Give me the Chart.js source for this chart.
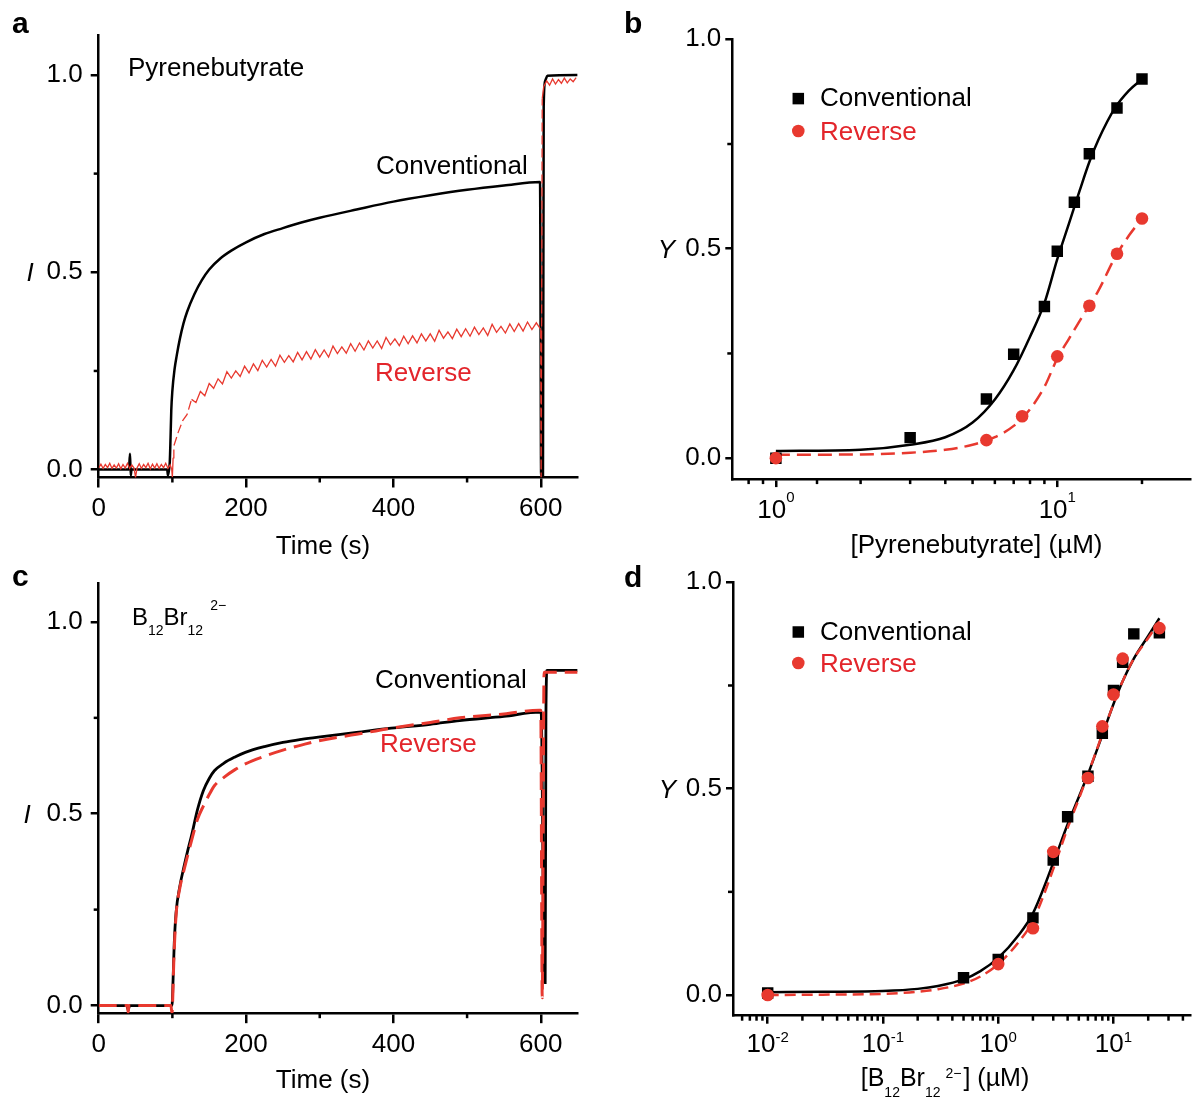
<!DOCTYPE html>
<html>
<head>
<meta charset="utf-8">
<script src="https://cdn.jsdelivr.net/npm/chart.js@4.4.1/dist/chart.umd.min.js"></script>
<style>
  html, body { margin: 0; padding: 0; background: #fff; }
  #fig { position: relative; width: 1198px; height: 1098px; overflow: hidden; }
  canvas { position: absolute; }
</style>
</head>
<body>
<div id="fig">
  <canvas id="chartA" width="599" height="560" style="left:0;top:0"></canvas>
  <canvas id="chartB" width="598" height="560" style="left:600px;top:0"></canvas>
  <canvas id="chartC" width="599" height="538" style="left:0;top:560px"></canvas>
  <canvas id="chartD" width="598" height="538" style="left:600px;top:560px"></canvas>
</div>
<script>
// ---- panel a : pyrenebutyrate time traces ----
const tConvA = [0, 41, 42.5, 43.5, 44.5, 93, 94, 95.5, 96.5, 97.5,
  98.5, 100, 103, 106, 110, 115, 120, 130, 140, 150,
  165, 180, 200, 225, 250, 275, 300, 350, 400, 450,
  500, 550, 599, 600.5, 603, 604, 606, 609, 650];
const iConvA = [0, 0, 0.04, -0.015, 0, 0, -0.015, 0, 0.02, 0.08,
  0.15, 0.2, 0.255, 0.29, 0.33, 0.37, 0.40, 0.445, 0.48, 0.507,
  0.535, 0.555, 0.576, 0.597, 0.612, 0.626, 0.638, 0.659, 0.679, 0.695,
  0.709, 0.72, 0.729, -0.015, -0.015, 0.92, 0.985, 0.998, 1.0];

const tRevA = [0, 3, 6, 9, 12, 15, 18, 21, 24, 27, 30, 33, 36, 39, 42, 45, 48, 50, 52, 55,
  58, 61, 64, 67, 70, 73, 76, 79, 82, 85, 88, 91, 94, 97, 99, 100, 101,
  102, 108, 114, 120, 126, 132, 138, 144, 150, 156, 162, 168, 174, 180, 186, 192, 198, 204, 210, 216,
  222, 228, 234, 240, 246, 252, 258, 264, 270, 276, 282, 288, 294, 300, 306, 312, 318, 324, 330, 336,
  342, 348, 354, 360, 366, 372, 378, 384, 390, 396, 402, 408, 414, 420, 426, 432, 438, 444, 450, 456,
  462, 468, 474, 480, 486, 492, 498, 504, 510, 516, 522, 528, 534, 540, 546, 552, 558, 564, 570, 576,
  582, 588, 594, 600,
  600.5, 602, 604, 608, 612, 616, 620, 624, 628, 632, 636, 640, 644, 648];
const iRevA = [0.004, 0.014, 0.003, 0.013, 0.005, 0.016, 0.003, 0.012, 0.004, 0.015,
  0.002, 0.013, 0.004, 0.016, 0.003, 0.012, 0.004, -0.02, 0.004, 0.015,
  0.003, 0.013, 0.005, 0.016, 0.002, 0.014, 0.004, 0.015, 0.003, 0.013,
  0.005, 0.016, 0.003, 0.012, 0.002, -0.02, 0.03,
  0.060, 0.095, 0.124, 0.140, 0.178, 0.170, 0.198, 0.187, 0.218, 0.206,
  0.230, 0.217, 0.248, 0.232, 0.250, 0.236, 0.262, 0.245, 0.268, 0.251,
  0.277, 0.260, 0.279, 0.262, 0.290, 0.272, 0.289, 0.273, 0.297, 0.278,
  0.299, 0.280, 0.304, 0.285, 0.303, 0.285, 0.313, 0.294, 0.311, 0.295,
  0.319, 0.300, 0.321, 0.303, 0.326, 0.308, 0.326, 0.307, 0.335, 0.316,
  0.331, 0.314, 0.338, 0.319, 0.339, 0.321, 0.344, 0.326, 0.344, 0.325,
  0.353, 0.333, 0.349, 0.332, 0.356, 0.337, 0.357, 0.338, 0.361, 0.342,
  0.359, 0.340, 0.368, 0.348, 0.363, 0.346, 0.369, 0.350, 0.370, 0.351,
  0.374, 0.355, 0.372, 0.355,
  -0.02, 0.94, 0.97, 0.985, 0.974, 0.99, 0.977, 0.988, 0.979, 0.992, 0.98, 0.99, 0.983, 0.993];

// ---- panel c : B12Br12 time traces ----
const tConvC = [0, 38, 40, 42, 98, 99.5, 101, 102.5, 105, 110,
  116, 121, 126, 134, 142, 150, 157, 170, 185, 199,
  225, 250, 275, 298, 350, 397, 450, 490, 550, 599,
  600.5, 605, 606, 607, 608.5, 650];
const iConvC = [0, 0, -0.012, 0, 0, 0, 0.07, 0.16, 0.242, 0.31,
  0.364, 0.405, 0.443, 0.51, 0.56, 0.592, 0.612, 0.632, 0.648, 0.66,
  0.675, 0.686, 0.694, 0.70, 0.712, 0.723, 0.733, 0.743, 0.754, 0.765,
  0.765, 0.06, 0.06, 0.75, 0.874, 0.874];
const tRevC = [0, 39, 40, 41, 98, 99.5, 100.5, 102, 105, 110,
  116, 126, 134, 142, 150, 157, 170, 185, 199, 225,
  250, 275, 298, 350, 397, 450, 490, 550, 598, 600,
  602, 604.5, 650];
const iRevC = [0, 0, -0.018, 0, 0, -0.02, 0.02, 0.12, 0.235, 0.305,
  0.355, 0.43, 0.485, 0.52, 0.55, 0.573, 0.595, 0.615, 0.63, 0.65,
  0.666, 0.679, 0.69, 0.707, 0.723, 0.738, 0.75, 0.76, 0.77, 0.77,
  0.02, 0.869, 0.869];

// ---- panel b : pyrenebutyrate titration ----
const concConvB = [1, 3, 5.6, 7, 9, 10, 11.5, 13, 16.3, 20];
const yConvB    = [0.0, 0.049, 0.141, 0.248, 0.362, 0.494, 0.611, 0.727, 0.836, 0.905];
const concRevB  = [1, 5.6, 7.5, 10, 13, 16.3, 20];
const yRevB     = [0.0, 0.043, 0.10, 0.243, 0.364, 0.488, 0.572];
const fitXB     = [1, 2, 3, 4, 5, 6, 7, 8, 9, 10, 11, 12, 13, 14, 16, 18, 20];
const fitConvB  = [0.017, 0.02, 0.032, 0.05, 0.085, 0.14, 0.21, 0.29, 0.37, 0.475, 0.56, 0.638, 0.707, 0.76, 0.835, 0.878, 0.905];
const fitRevB   = [0.008, 0.009, 0.013, 0.02, 0.032, 0.05, 0.077, 0.117, 0.17, 0.238, 0.285, 0.327, 0.365, 0.4, 0.478, 0.532, 0.572];

// ---- panel d : B12Br12 titration ----
const concConvD = [0.01, 0.5, 1, 2, 3, 4, 6, 8, 10, 12, 15, 25];
const yConvD    = [0.005, 0.042, 0.086, 0.187, 0.327, 0.432, 0.53, 0.634, 0.738, 0.806, 0.875, 0.878];
const concRevD  = [0.01, 1, 2, 3, 6, 8, 10, 12, 25];
const yRevD     = [0.0, 0.075, 0.162, 0.347, 0.526, 0.651, 0.728, 0.815, 0.889];
const fitXD     = [0.01, 0.03, 0.1, 0.2, 0.3, 0.5, 0.7, 1, 1.5, 2, 3, 4, 5, 6, 8, 10, 12, 15, 20, 25];
const fitConvD  = [0.007, 0.008, 0.01, 0.015, 0.022, 0.038, 0.058, 0.09, 0.145, 0.198, 0.32, 0.414, 0.48, 0.535, 0.63, 0.705, 0.76, 0.815, 0.87, 0.913];
const fitRevD   = [0.0, 0.001, 0.003, 0.008, 0.014, 0.028, 0.045, 0.075, 0.128, 0.18, 0.305, 0.405, 0.475, 0.535, 0.632, 0.705, 0.76, 0.815, 0.865, 0.905];

// ---- ticks ----
const timeTicks   = [0, 200, 400, 600];
const timeMinor   = [100, 300, 500];
const yTicks      = [0, 0.5, 1.0];
const yMinor      = [0.25, 0.75];
const decadesB    = [1, 10];
const expB        = ['0', '1'];
const minorB      = [0.8, 0.9, 1.4, 2, 3, 4, 5, 6, 7, 8, 9, 20];
const decadesD    = [0.01, 0.1, 1, 10];
const expD        = ['-2', '-1', '0', '1'];
const minorD      = [0.006, 0.007, 0.008, 0.009, 0.02, 0.03, 0.04, 0.05, 0.06, 0.07, 0.08, 0.09,
  0.2, 0.3, 0.4, 0.5, 0.6, 0.7, 0.8, 0.9, 2, 3, 4, 5, 6, 7, 8, 9, 20, 30, 40];

const RED = '#e8392f';
const RED_TXT = '#e3252b';
const FONT = '"Liberation Sans", Arial, sans-serif';

Chart.defaults.font.family = FONT;
Chart.defaults.font.size = 26;
Chart.defaults.color = '#000';

function pts(xs, ys) { return xs.map((x, i) => ({x: x, y: ys[i]})); }

// draw a line of text made of parts (for sub / superscripts)
function drawRich(ctx, it) {
  const size = it.size || 26, style = it.style || '';
  const fontOf = p => ((p.style || style) + ' ' + (p.size || size) + 'px ' + FONT).trim();
  let w = 0;
  it.parts.forEach(p => { ctx.font = fontOf(p); w += ctx.measureText(p.t).width + (p.gap || 0); });
  let x = it.align === 'center' ? it.x - w / 2 : it.x;
  ctx.fillStyle = it.color || '#000';
  ctx.textAlign = 'left';
  ctx.textBaseline = 'alphabetic';
  it.parts.forEach(p => {
    ctx.font = fontOf(p);
    ctx.fillText(p.t, x, it.y + (p.dy || 0));
    x += ctx.measureText(p.t).width + (p.gap || 0);
  });
}

// minor ticks, power-of-ten labels, texts and legend, placed with the chart's scales
function decor(o) {
  return {
    id: 'decor',
    afterDraw(chart) {
      const ctx = chart.ctx, xs = chart.scales.x, ys = chart.scales.y;
      ctx.save();
      ctx.strokeStyle = '#000';
      ctx.lineWidth = 2.5;
      o.minorX.forEach(v => {
        const p = xs.getPixelForValue(v);
        ctx.beginPath(); ctx.moveTo(p, xs.top); ctx.lineTo(p, xs.top + o.minorLen); ctx.stroke();
      });
      o.minorY.forEach(v => {
        const p = ys.getPixelForValue(v);
        ctx.beginPath(); ctx.moveTo(ys.right, p); ctx.lineTo(ys.right - o.minorLen, p); ctx.stroke();
      });
      if (o.expTicks) {
        o.expTicks.forEach((v, i) => {
          drawRich(ctx, {x: xs.getPixelForValue(v), y: xs.top + o.expBase, align: 'center',
            parts: [{t: '10'}, {t: o.expLabels[i], size: 15, dy: -o.expRaise}]});
        });
      }
      drawRich(ctx, {x: o.yTitle.x, y: ys.getPixelForValue(0.5) + 9, align: 'center', style: 'italic',
        parts: [{t: o.yTitle.t}]});
      o.texts.forEach(t => drawRich(ctx, t));
      (o.legend || []).forEach(l => {
        ctx.fillStyle = l.color;
        if (l.shape === 'rect') ctx.fillRect(l.mx - 5.75, l.my - 5.75, 11.5, 11.5);
        else { ctx.beginPath(); ctx.arc(l.mx, l.my, 6.3, 0, Math.PI * 2); ctx.fill(); }
        drawRich(ctx, {x: l.tx, y: l.ty, color: l.textColor, parts: [{t: l.t}]});
      });
      ctx.restore();
    }
  };
}

function axisStyle(tickLen) {
  return {
    border: {display: true, color: '#000', width: 2.5},
    grid: {drawOnChartArea: false, drawTicks: true, tickLength: tickLen, tickWidth: 2.5, lineWidth: 2.5, color: '#000', tickColor: '#000'}
  };
}

function makeChart(id, datasets, g, xScale, yScale, deco) {
  return new Chart(document.getElementById(id), {
    type: 'scatter',
    data: {datasets: datasets},
    options: {
      responsive: false,
      animation: false,
      events: [],
      layout: {padding: {left: 0, top: g.top, right: g.right, bottom: 0}},
      plugins: {legend: {display: false}, tooltip: {enabled: false}},
      scales: {
        x: Object.assign(axisStyle(g.xTick), xScale, {afterFit: s => { s.height = g.xHeight; }}),
        y: Object.assign(axisStyle(g.yTick), yScale, {afterFit: s => { s.width = g.yWidth; }})
      }
    },
    plugins: [decor(deco)]
  });
}

function timeX() {
  return {
    type: 'linear', min: 0, max: 650,
    afterBuildTicks: s => { s.ticks = timeTicks.map(v => ({value: v})); },
    ticks: {padding: 6, maxRotation: 0, autoSkip: false, callback: v => String(v)}
  };
}
function valueY(min, max, pad) {
  return {
    type: 'linear', min: min, max: max,
    afterBuildTicks: s => { s.ticks = yTicks.map(v => ({value: v})); },
    ticks: {padding: pad, callback: v => v.toFixed(1)}
  };
}
function logX(min, max, decades) {
  return {
    type: 'logarithmic', min: min, max: max,
    afterBuildTicks: s => { s.ticks = decades.map(v => ({value: v})); },
    ticks: {display: false, autoSkip: false}
  };
}

// dashed look on the steep parts and the early rise of the noisy red trace
const redDash = c => (Math.abs(c.p1.parsed.y - c.p0.parsed.y) > 0.06 ||
  (c.p0.parsed.x >= 101 && c.p1.parsed.x <= 126)) ? [9, 4] : undefined;

// panel a
makeChart('chartA', [
  {data: pts(tRevA, iRevA), showLine: true, borderColor: RED, borderWidth: 1.3, pointRadius: 0, segment: {borderDash: redDash}},
  {data: pts(tConvA, iConvA), showLine: true, borderColor: '#000', borderWidth: 2.5, pointRadius: 0, cubicInterpolationMode: 'monotone'}
], {top: 35.5, right: 21.4, xHeight: 82.5, yWidth: 98.7, xTick: 10, yTick: 8},
timeX(), valueY(-0.02, 1.1, 8), {
  minorX: timeMinor, minorY: yMinor, minorLen: 5,
  yTitle: {t: 'I', x: 30},
  texts: [
    {x: 12, y: 33, size: 30, style: 'bold', parts: [{t: 'a'}]},
    {x: 128, y: 76, parts: [{t: 'Pyrenebutyrate'}]},
    {x: 376, y: 174, parts: [{t: 'Conventional'}]},
    {x: 375, y: 381, color: RED_TXT, parts: [{t: 'Reverse'}]},
    {x: 323, y: 554, align: 'center', parts: [{t: 'Time (s)'}]}
  ]
});

// panel b
makeChart('chartB', [
  {data: pts(concRevB, yRevB), pointStyle: 'circle', pointRadius: 6.3, backgroundColor: RED, borderWidth: 0},
  {data: pts(concConvB, yConvB), pointStyle: 'rect', pointRadius: 8.1, backgroundColor: '#000', borderWidth: 0},
  {data: pts(fitXB, fitRevB), showLine: true, borderColor: RED, borderWidth: 2.5, borderDash: [14, 7], pointRadius: 0, cubicInterpolationMode: 'monotone'},
  {data: pts(fitXB, fitConvB), showLine: true, borderColor: '#000', borderWidth: 2.5, pointRadius: 0, cubicInterpolationMode: 'monotone'}
], {top: 39.3, right: 0, xHeight: 80.9, yWidth: 132.3, xTick: 8, yTick: 7},
logX(0.7, 29.6, decadesB), valueY(-0.05, 1.0, 4), {
  minorX: minorB, minorY: yMinor, minorLen: 5,
  expTicks: decadesB, expLabels: expB, expBase: 39, expRaise: 16,
  yTitle: {t: 'Y', x: 66.5},
  texts: [
    {x: 24, y: 33, size: 30, style: 'bold', parts: [{t: 'b'}]},
    {x: 376.5, y: 553, align: 'center', parts: [{t: '[Pyrenebutyrate] (\u00b5M)'}]}
  ],
  legend: [
    {shape: 'rect', color: '#000', mx: 198.3, my: 98.6, tx: 220, ty: 106, t: 'Conventional', textColor: '#000'},
    {shape: 'circle', color: RED, mx: 198.3, my: 131, tx: 220, ty: 140, t: 'Reverse', textColor: RED_TXT}
  ]
});

// panel c
makeChart('chartC', [
  {data: pts(tRevC, iRevC), showLine: true, borderColor: RED, borderWidth: 3, borderDash: [18, 8], pointRadius: 0, cubicInterpolationMode: 'monotone'},
  {data: pts(tConvC, iConvC), showLine: true, borderColor: '#000', borderWidth: 2.8, pointRadius: 0, cubicInterpolationMode: 'monotone'}
], {top: 12, right: 21.4, xHeight: 84.8, yWidth: 98.7, xTick: 10, yTick: 8},
timeX(), valueY(-0.02, 1.1, 8), {
  minorX: timeMinor, minorY: yMinor, minorLen: 5,
  yTitle: {t: 'I', x: 27},
  texts: [
    {x: 12, y: 26, size: 30, style: 'bold', parts: [{t: 'c'}]},
    {x: 132, y: 65, parts: [{t: 'B', size: 24}, {t: '12', size: 14, dy: 10}, {t: 'Br', size: 24},
      {t: '12', size: 14, dy: 10, gap: 7}, {t: '2\u2212', size: 14, dy: -15}]},
    {x: 375, y: 128, parts: [{t: 'Conventional'}]},
    {x: 380, y: 192, color: RED_TXT, parts: [{t: 'Reverse'}]},
    {x: 323, y: 528, align: 'center', parts: [{t: 'Time (s)'}]}
  ]
});

// panel d
makeChart('chartD', [
  {data: pts(concRevD, yRevD), pointStyle: 'circle', pointRadius: 6.3, backgroundColor: RED, borderWidth: 0},
  {data: pts(concConvD, yConvD), pointStyle: 'rect', pointRadius: 8.1, backgroundColor: '#000', borderWidth: 0},
  {data: pts(fitXD, fitRevD), showLine: true, borderColor: RED, borderWidth: 2.5, borderDash: [11, 6], pointRadius: 0, cubicInterpolationMode: 'monotone'},
  {data: pts(fitXD, fitConvD), showLine: true, borderColor: '#000', borderWidth: 2.5, pointRadius: 0, cubicInterpolationMode: 'monotone'}
], {top: 22.3, right: 0, xHeight: 82.3, yWidth: 133, xTick: 8, yTick: 7},
logX(0.005, 46, decadesD), valueY(-0.05, 1.0, 4), {
  minorX: minorD, minorY: yMinor, minorLen: 5,
  expTicks: decadesD, expLabels: expD, expBase: 36, expRaise: 10,
  yTitle: {t: 'Y', x: 67.5},
  texts: [
    {x: 24, y: 27, size: 30, style: 'bold', parts: [{t: 'd'}]},
    {x: 345, y: 526, align: 'center', parts: [{t: '[B', size: 25}, {t: '12', size: 14, dy: 11}, {t: 'Br', size: 25},
      {t: '12', size: 14, dy: 11, gap: 5}, {t: '2\u2212', size: 14, dy: -8, gap: 2}, {t: '] (\u00b5M)', size: 25}]}
  ],
  legend: [
    {shape: 'rect', color: '#000', mx: 198.3, my: 72, tx: 220, ty: 79.5, t: 'Conventional', textColor: '#000'},
    {shape: 'circle', color: RED, mx: 198.3, my: 103, tx: 220, ty: 112, t: 'Reverse', textColor: RED_TXT}
  ]
});
</script>
</body>
</html>
